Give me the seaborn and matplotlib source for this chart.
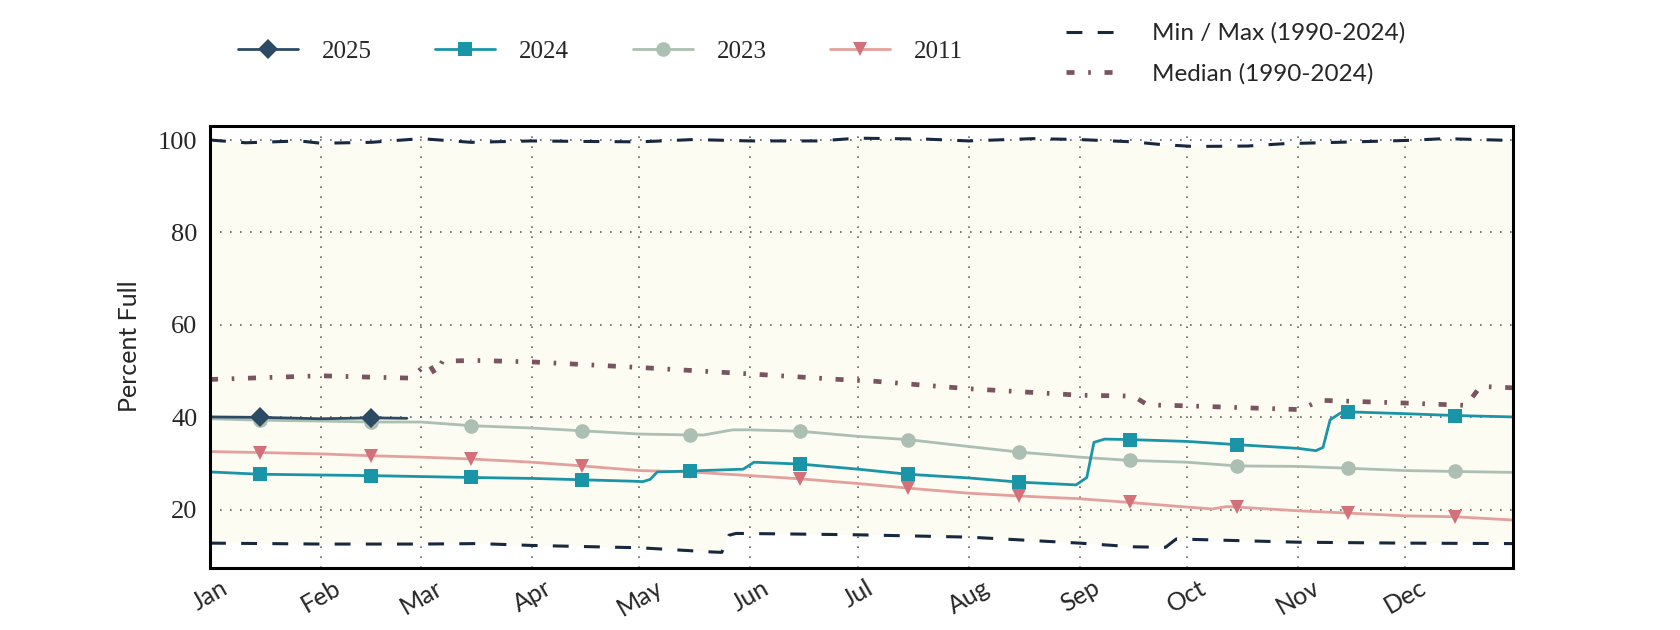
import numpy as np
import pandas as pd
import matplotlib
matplotlib.use("Agg")
import matplotlib.pyplot as plt
import seaborn as sns

# ---------------- data (day-of-year index, 0 = Jan 1) ----------------
month_names = ["Jan", "Feb", "Mar", "Apr", "May", "Jun",
               "Jul", "Aug", "Sep", "Oct", "Nov", "Dec"]
month_starts = [0, 31, 59, 90, 120, 151, 181, 212, 243, 273, 304, 334]
mid_month_days = [14, 45, 73, 104, 134, 165, 195, 226, 257, 287, 318, 348]
y_ticks = [20, 40, 60, 80, 100]

days_2025 = [0, 14, 31, 45, 55]
vals_2025 = [40.1, 40.0, 39.7, 39.9, 39.8]

days_2024 = [0, 14, 45, 59, 73, 90, 104, 118, 121, 123, 125, 134, 149, 152,
             165, 181, 195, 212, 226, 242, 245, 247, 250, 257, 273, 287, 304,
             309, 311, 313, 316, 318, 334, 348, 364]
vals_2024 = [28.2, 27.7, 27.4, 27.2, 27.0, 26.8, 26.5, 26.2, 26.1, 26.6, 28.2,
             28.4, 28.8, 30.3, 29.9, 28.8, 27.7, 26.9, 26.0, 25.4, 27.0, 34.6,
             35.3, 35.2, 34.8, 34.1, 33.3, 32.8, 33.5, 39.5, 41.0, 41.2, 40.8,
             40.4, 40.1]

days_2023 = [0, 14, 31, 45, 59, 73, 90, 104, 120, 134, 138, 146, 151, 165,
             181, 195, 212, 226, 243, 257, 273, 287, 304, 318, 334, 348, 364]
vals_2023 = [39.7, 39.4, 39.2, 39.0, 39.0, 38.2, 37.7, 37.1, 36.4, 36.2, 36.2,
             37.3, 37.3, 37.0, 35.9, 35.2, 33.7, 32.5, 31.4, 30.7, 30.3, 29.5,
             29.4, 29.0, 28.5, 28.3, 28.1]

days_2011 = [0, 14, 31, 45, 59, 73, 90, 104, 120, 134, 151, 165, 181, 195,
             212, 226, 243, 257, 273, 280, 284, 287, 304, 318, 334, 348, 364]
vals_2011 = [32.6, 32.4, 32.1, 31.7, 31.4, 31.0, 30.3, 29.5, 28.5, 28.2, 27.4,
             26.7, 25.7, 24.7, 23.6, 23.0, 22.4, 21.6, 20.6, 20.2, 20.7, 20.6,
             19.8, 19.3, 18.7, 18.5, 17.8]

days_median = [0, 15, 31, 45, 56, 59, 61, 63, 65, 75, 90, 120, 151, 176, 186,
               212, 243, 258, 262, 273, 304, 307, 310, 334, 351, 355, 364]
vals_median = [48.2, 48.6, 49.0, 48.7, 48.5, 50.5, 51.8, 49.3, 52.2, 52.3,
               52.0, 50.8, 49.4, 48.2, 47.8, 46.2, 44.8, 44.6, 42.7, 42.5,
               41.7, 42.5, 43.7, 43.1, 42.6, 46.7, 46.4]

days_min = [0, 31, 59, 75, 90, 120, 140, 143, 145, 147, 160, 181, 212, 243,
            258, 267, 270, 304, 334, 364]
vals_min = [12.8, 12.6, 12.6, 12.7, 12.3, 11.8, 10.9, 10.8, 14.5, 14.9, 14.8,
            14.6, 14.1, 12.8, 12.0, 11.9, 13.7, 13.0, 12.8, 12.7]

days_max = [0, 10, 25, 31, 45, 59, 73, 90, 104, 120, 135, 151, 170, 181, 200,
            212, 230, 243, 258, 266, 275, 290, 300, 315, 334, 345, 364]
vals_max = [100.0, 99.4, 99.8, 99.3, 99.5, 100.3, 99.5, 99.8, 99.7, 99.6,
            100.1, 99.8, 99.8, 100.4, 100.2, 99.8, 100.3, 100.1, 99.6, 99.0,
            98.6, 98.7, 99.2, 99.5, 99.9, 100.3, 99.9]

# ---------------- style ----------------
sns.set_theme(style="white")
plt.rcParams["font.family"] = ["Lato", "DejaVu Sans"]
serif = ["Liberation Serif", "DejaVu Serif"]

fig = plt.figure(figsize=(16.8, 6.3), dpi=100)
ax = fig.add_axes([0.125, 0.099, 0.7754, 0.7015])

# min/max band
ax.fill(np.concatenate([days_min, days_max[::-1]]),
        np.concatenate([vals_min, vals_max[::-1]]),
        color="#fcfcf2", lw=0, zorder=0)

c_minmax = "#182840"
c_median = "#7a5460"

sns.lineplot(x=days_max, y=vals_max, ax=ax, color=c_minmax, lw=2.2,
             linestyle=(0, (5.2, 5)), label="Min / Max (1990-2024)", zorder=3)
sns.lineplot(x=days_min, y=vals_min, ax=ax, color=c_minmax, lw=2.2,
             linestyle=(0, (5.2, 5)), zorder=3)
sns.lineplot(x=days_median, y=vals_median, ax=ax, color=c_median, lw=3.4,
             linestyle=(0, (1.7, 2.9, 0.55, 2.9)), label="Median (1990-2024)",
             zorder=3)


def mark_idx(days):
    return [i for i, d in enumerate(days) if d in mid_month_days]


series = [
    ("2011", days_2011, vals_2011, "#e3a09d", "#d4707a", "v", 10.5),
    ("2023", days_2023, vals_2023, "#abbfb2", "#abbfb2", "o", 10.5),
    ("2024", days_2024, vals_2024, "#1a95a8", "#1a95a8", "s", 10),
    ("2025", days_2025, vals_2025, "#2c4a63", "#2c4a63", "D", 10),
]
z = 4
for lab, d, v, lc, mc, mk, ms in series:
    sns.lineplot(x=d, y=v, ax=ax, color=lc, lw=2.0, marker=mk, markersize=ms,
                 markerfacecolor=mc, markeredgecolor=mc, markeredgewidth=0,
                 markevery=mark_idx(d), label=lab, zorder=z)
    z += 1

ax.set_xlim(0, 364)
ax.set_ylim(7.5, 103.1)
ax.set_xticks(month_starts)
ax.set_xticklabels(month_names, rotation=30, ha="center", fontsize=18)
ax.set_yticks(y_ticks)
ax.set_yticklabels([str(t) for t in y_ticks], fontsize=19, family=serif)
ax.tick_params(axis="both", length=0)
ax.tick_params(axis="y", pad=9)
ax.tick_params(axis="x", pad=6)
ax.set_xlabel("")
ax.set_ylabel("Percent Full", fontsize=18, labelpad=12)
ax.grid(True, color="#666666", lw=1.2, linestyle=(0, (1, 5)))
ax.set_axisbelow(False)
for gl in ax.get_xgridlines() + ax.get_ygridlines():
    gl.set_zorder(1)
for s in ax.spines.values():
    s.set_color("black")
    s.set_linewidth(2.2)
    s.set_zorder(10)

handles, labels = ax.get_legend_handles_labels()
ax.get_legend().remove()
hmap = dict(zip(labels, handles))

leg1 = fig.legend([hmap[k] for k in ["2025", "2024", "2023", "2011"]],
                  ["2025", "2024", "2023", "2011"],
                  loc="center left", bbox_to_anchor=(0.1415, 0.918), ncol=4,
                  frameon=False, borderpad=0, borderaxespad=0,
                  handlelength=2.4, handletextpad=0.95, columnspacing=2.55,
                  prop={"family": serif, "size": 18})
leg2 = fig.legend([hmap["Min / Max (1990-2024)"], hmap["Median (1990-2024)"]],
                  ["Min / Max (1990-2024)", "Median (1990-2024)"],
                  loc="center left", bbox_to_anchor=(0.6345, 0.915), ncol=1,
                  frameon=False, borderpad=0, borderaxespad=0,
                  handlelength=2.0, handletextpad=1.55, labelspacing=0.78,
                  prop={"size": 17.5})

fig.savefig("out.png", dpi=100)
